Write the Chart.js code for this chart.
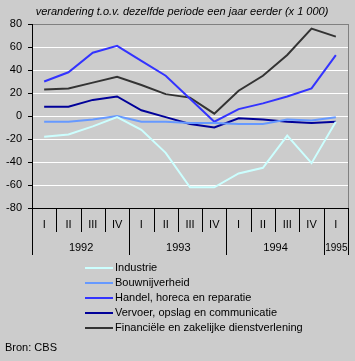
<!DOCTYPE html>
<html><head><meta charset="utf-8">
<script src="https://cdn.jsdelivr.net/npm/chart.js@4/dist/chart.umd.min.js"></script>
<style>html,body{margin:0;padding:0;background:#cccccc;}#wrap{position:relative;width:355px;height:361px;}</style>
</head><body><div id="wrap"><canvas id="c" width="355" height="361"></canvas></div>
<script>
const titleText = 'verandering t.o.v. dezelfde periode een jaar eerder (x 1 000)';
const sourceText = 'Bron: CBS';
const quarters = ['I','II','III','IV','I','II','III','IV','I','II','III','IV','I'];
const years = ['1992','1993','1994','1995'];
const yearSpans = [4,4,4,1];
const yMin = -80, yMax = 80, yStep = 20;

const seriesNames = ['Industrie','Bouwnijverheid','Handel, horeca en reparatie','Vervoer, opslag en communicatie','Financiële en zakelijke dienstverlening'];
const seriesColors = ['#ccffff','#6699ff','#3333ff','#000099','#333333'];
const industrie   = [-18,-16,-9,-1,-12,-32,-62,-62,-50,-45,-17,-41,-5];
const bouw        = [-5,-5,-3,0,-5,-5,-6,-6,-7,-7,-3,-4,-1];
const handel      = [30,38,55,61,48,35,15,-5,6,11,17,24,53];
const vervoer     = [8,8,14,17,5,-1,-7,-10,-2,-3,-5,-6,-5];
const financieel  = [23,24,29,34,27,19,16,2,22,35,53,76,69];
const seriesData = [industrie,bouw,handel,vervoer,financieel];

const FONT = 'Liberation Sans, Arial, sans-serif';

const extras = {
  id: 'extras',
  afterDraw(chart) {
    const ctx = chart.ctx, ca = chart.chartArea, xs = chart.scales.x;
    ctx.save();
    // right border
    ctx.strokeStyle = '#808080'; ctx.lineWidth = 1;
    ctx.beginPath(); ctx.moveTo(Math.round(ca.right)+0.5, ca.top); ctx.lineTo(Math.round(ca.right)+0.5, ca.bottom); ctx.stroke();
    // category separators
    const n = quarters.length;
    const w = (xs.right - xs.left) / n;
    ctx.strokeStyle = '#000';
    for (let k = 1; k < n; k++) {
      const x = Math.round(xs.left + k*w) + 0.5;
      ctx.beginPath(); ctx.moveTo(x, ca.bottom); ctx.lineTo(x, ca.bottom + 24); ctx.stroke();
    }
    // year separators and labels
    let k = 0;
    ctx.font = '11px ' + FONT; ctx.fillStyle = '#000'; ctx.textAlign = 'center'; ctx.textBaseline = 'middle';
    const bounds = [0];
    yearSpans.forEach(s => { k += s; bounds.push(k); });
    bounds.forEach(b => {
      const x = Math.round(xs.left + b*w) + 0.5;
      ctx.beginPath(); ctx.moveTo(x, ca.bottom); ctx.lineTo(x, ca.bottom + 47); ctx.stroke();
    });
    years.forEach((y, i) => {
      const span = (bounds[i+1] - bounds[i]) * w;
      const cx = xs.left + (bounds[i] + bounds[i+1]) / 2 * w;
      ctx.fillText(y, cx + 0.5, ca.bottom + 40, span - 2);
    });
    // title
    ctx.font = 'italic 11px ' + FONT;
    ctx.fillText(titleText, 182, 12);
    // legend
    ctx.font = '11px ' + FONT; ctx.textAlign = 'left';
    chart.data.datasets.forEach((ds, i) => {
      const y = 268 + 15*i;
      ctx.strokeStyle = ds.borderColor; ctx.lineWidth = 2;
      ctx.beginPath(); ctx.moveTo(85, y); ctx.lineTo(113, y); ctx.stroke();
      ctx.fillStyle = '#000';
      ctx.fillText(ds.label, 115, y);
    });
    ctx.fillText(sourceText, 5, 348);
    ctx.restore();
  }
};

new Chart(document.getElementById('c'), {
  type: 'line',
  data: {
    labels: quarters,
    datasets: seriesData.map((d, i) => ({
      label: seriesNames[i], data: d, borderColor: seriesColors[i], backgroundColor: seriesColors[i],
      borderWidth: 2, pointRadius: 0, tension: 0, fill: false
    }))
  },
  options: {
    responsive: false, animation: false, devicePixelRatio: 1,
    layout: { padding: { top: 24, right: 7, left: 0, bottom: 0 } },
    plugins: { legend: { display: false }, title: { display: false }, tooltip: { enabled: false } },
    scales: {
      x: {
        type: 'category', offset: true,
        grid: { display: false, drawTicks: false },
        border: { display: true, color: '#000', width: 1 },
        ticks: { font: { family: FONT, size: 11 }, color: '#000', maxRotation: 0, autoSkip: false, padding: 10 },
        afterFit: s => { s.height = 153; }
      },
      y: {
        min: yMin, max: yMax,
        ticks: { stepSize: yStep, font: { family: FONT, size: 11 }, color: '#000', padding: 6 },
        grid: { color: c => c.tick.value === yMax ? '#808080' : (c.tick.value === yMin ? '#000' : '#ffffff'), lineWidth: 1, tickLength: 4, tickColor: '#000' },
        border: { display: true, color: '#000', width: 1 },
        afterFit: s => { s.width = 32; }
      }
    }
  },
  plugins: [extras]
});
</script>
</body></html>
